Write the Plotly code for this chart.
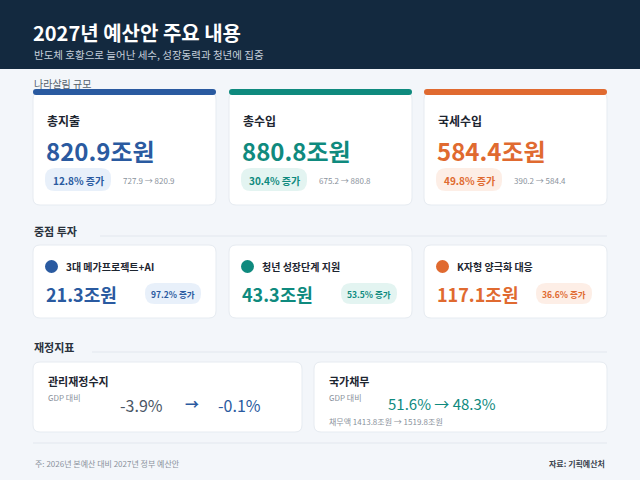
import plotly.graph_objects as go

# ---------------- data ----------------
scale_labels = ["총지출", "총수입", "국세수입"]
scale_values = [820.9, 880.8, 584.4]
scale_prev = [727.9, 675.2, 390.2]
scale_growth = [12.8, 30.4, 49.8]

focus_labels = ["3대 메가프로젝트+AI", "청년 성장단계 지원", "K자형 양극화 대응"]
focus_values = [21.3, 43.3, 117.1]
focus_growth = [97.2, 53.5, 36.6]

balance_gdp = [-3.9, -0.1]
debt_gdp = [51.6, 48.3]
debt_amount = [1413.8, 1519.8]

colors = ["#2a5aa0", "#0f8a7e", "#e06a30"]
pill_bg = ["#e8f0fa", "#e3f4f1", "#fdeee6"]
FONT = "Noto Sans CJK KR"

fig = go.Figure()
shapes = []
ann = []


def rrect(x0, y0, x1, y1, r, fill, line="rgba(0,0,0,0)"):
    p = (f"M{x0+r},{y0} L{x1-r},{y0} Q{x1},{y0} {x1},{y0+r} L{x1},{y1-r} Q{x1},{y1} {x1-r},{y1} "
         f"L{x0+r},{y1} Q{x0},{y1} {x0},{y1-r} L{x0},{y0+r} Q{x0},{y0} {x0+r},{y0} Z")
    shapes.append(dict(type="path", path=p, fillcolor=fill, line=dict(color=line, width=1), layer="below"))


def text(x, y, s, size, color, bold=False, anchor="left"):
    if bold:
        s = f"<b>{s}</b>"
    ann.append(dict(x=x, y=y, text=s, showarrow=False, xanchor=anchor, yanchor="middle",
                    font=dict(size=size, color=color, family=FONT)))


# header
shapes.append(dict(type="rect", x0=0, x1=640, y0=0, y1=69, fillcolor="#13293f", line_width=0, layer="below"))
text(31, 32, "2027년 예산안 주요 내용", 20, "white", True)
text(32, 54, "반도체 호황으로 늘어난 세수, 성장동력과 청년에 집중", 10.5, "#c5cfdb")

# section 1
text(32, 83, "나라살림 규모", 10, "#555f6b")
xs = [33, 229, 424]
for i in range(3):
    x0 = xs[i]
    rrect(x0, 92, x0 + 183, 205, 7, "white", "#e6ebf1")
    rrect(x0, 89, x0 + 183, 95, 3, colors[i])
    text(x0 + 12, 120, scale_labels[i], 12, "#1d2530", True)
    text(x0 + 11, 150, f"{scale_values[i]}조원", 24, colors[i], True)
    rrect(x0 + 12, 168, x0 + 78, 191, 10, pill_bg[i])
    text(x0 + 45, 180, f"{scale_growth[i]}% 증가", 10, colors[i], True, "center")
    text(x0 + 88, 180, f"{scale_prev[i]} → {scale_values[i]}", 8, "#8a929c")

# section 2
text(32, 231, "중점 투자", 11, "#2a323c", True)
shapes.append(dict(type="line", x0=100, x1=607, y0=236, y1=236, line=dict(color="#e2e7ee", width=1)))
for i in range(3):
    x0 = xs[i]
    rrect(x0, 245, x0 + 183, 318, 7, "white", "#e6ebf1")
    shapes.append(dict(type="circle", x0=x0 + 12, x1=x0 + 25, y0=260, y1=273, fillcolor=colors[i], line_width=0))
    text(x0 + 31, 266, focus_labels[i], 10, "#1d2530", True)
    text(x0 + 11, 294, f"{focus_values[i]}조원", 18, colors[i], True)
    rrect(x0 + 112, 283, x0 + 168, 304, 10, pill_bg[i])
    text(x0 + 140, 294, f"{focus_growth[i]}% 증가", 8.5, colors[i], True, "center")

# section 3
text(32, 347, "재정지표", 11, "#2a323c", True)
shapes.append(dict(type="line", x0=92, x1=607, y0=352, y1=352, line=dict(color="#e2e7ee", width=1)))
rrect(33, 362, 302, 432, 7, "white", "#e6ebf1")
rrect(314, 362, 607, 432, 7, "white", "#e6ebf1")
text(46, 381, "관리재정수지", 11, "#1d2530", True)
text(46, 397, "GDP 대비", 8, "#8a929c")
text(141, 405, f"{balance_gdp[0]}%", 16, "#4a5666", anchor="center")
text(192, 403, "<b>→</b>", 14, "#2a5aa0", anchor="center")
text(239, 405, f"{balance_gdp[1]}%", 16, "#2a5aa0", anchor="center")
text(327, 381, "국가채무", 11, "#1d2530", True)
text(327, 397, "GDP 대비", 8, "#8a929c")
text(386, 403, f"{debt_gdp[0]}% → {debt_gdp[1]}%", 15, "#0f8a7e")
text(327, 421, f"채무액 {debt_amount[0]}조원 → {debt_amount[1]}조원", 8, "#8a929c")

# footer
shapes.append(dict(type="line", x0=33, x1=607, y0=443, y1=443, line=dict(color="#e2e7ee", width=1)))
text(33, 463, "주: 2026년 본예산 대비 2027년 정부 예산안", 8, "#8a929c")
text(607, 463, "자료: 기획예산처", 8, "#3a434e", True, "right")

fig.update_layout(
    width=640, height=480, margin=dict(l=0, r=0, t=0, b=0),
    paper_bgcolor="#f3f6fa", plot_bgcolor="#f3f6fa",
    xaxis=dict(range=[0, 640], visible=False, fixedrange=True),
    yaxis=dict(range=[480, 0], visible=False, fixedrange=True),
    shapes=shapes, annotations=ann, showlegend=False,
)
fig.write_html("out.html", config={"displayModeBar": False},
               post_script="document.body.style.margin='0';document.body.style.overflow='hidden';")
